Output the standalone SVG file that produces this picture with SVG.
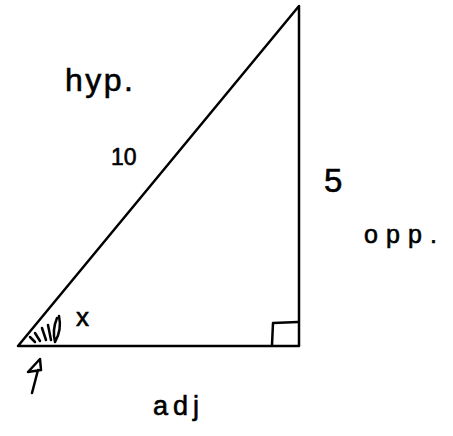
<svg xmlns="http://www.w3.org/2000/svg" width="453" height="436" viewBox="0 0 453 436">
<style>
.ln{fill:none;stroke:#000;stroke-width:2.5;stroke-linecap:round;stroke-linejoin:round}
.t{font-family:"Liberation Sans",Arial,sans-serif;fill:#000;stroke:#000;stroke-width:0.6}
</style>
<rect width="453" height="436" fill="#fff"/>
<g id="triangle">
<path class="ln" d="M18,346 L299,6 L299,346 Z"/>
<path class="ln" d="M272,345 L273,323 L298,322"/>
</g>
<g id="angle">
<path class="ln" d="M30,337 L35,342 M35,333 L40,341 M42,328 L46,340 M48,325 L51,340 M57,318 Q52,330 55,342 Q62,330 59,316"/>
<text class="t" x="76" y="326" font-size="26">x</text>
</g>
<g id="arrow">
<path class="ln" d="M32,393 L38,370 M28,372 L40,359 L41,370 Z"/>
</g>
<g id="labels">
<text class="t" x="65" y="91" font-size="32" textLength="68" lengthAdjust="spacing">hyp.</text>
<text class="t" x="111" y="165" font-size="23">10</text>
<text class="t" x="324" y="192" font-size="33">5</text>
<text class="t" x="364" y="243" font-size="25" textLength="73" lengthAdjust="spacing">opp.</text>
<text class="t" x="153" y="415" font-size="27" textLength="46" lengthAdjust="spacing">adj</text>
</g>
</svg>
